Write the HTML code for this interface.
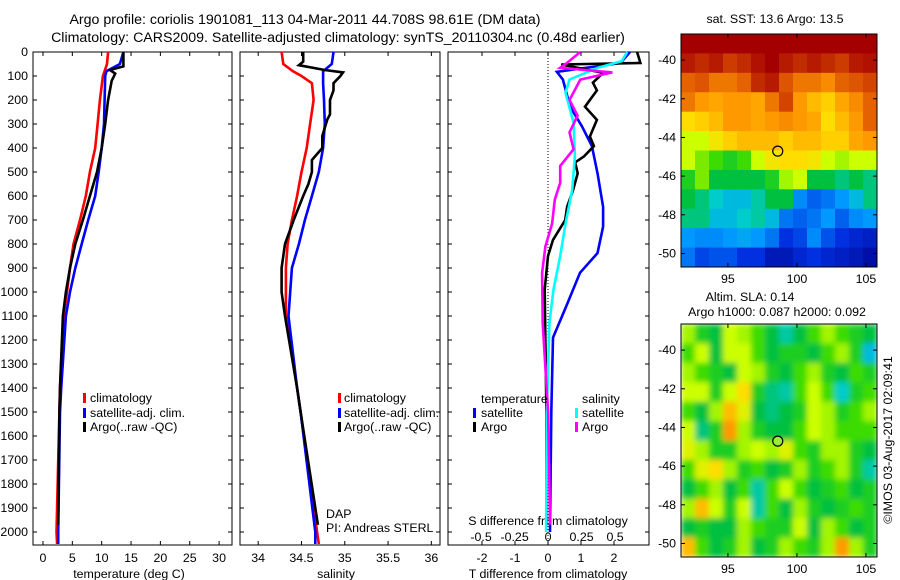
<!DOCTYPE html>
<html><head><meta charset="utf-8">
<style>
html,body{margin:0;padding:0;background:#fff;}
svg{display:block;font-family:"Liberation Sans",sans-serif;}
text{fill:#000;font-size:12.4px;}
</style></head>
<body>
<svg id="fig" width="900" height="580" viewBox="0 0 900 580" xmlns="http://www.w3.org/2000/svg">
<defs>
<filter id="blur" x="-5%" y="-5%" width="110%" height="110%"><feGaussianBlur stdDeviation="3" edgeMode="duplicate"/></filter>
<clipPath id="clipSST"><rect x="681" y="34" width="196" height="233"/></clipPath>
<clipPath id="clipSLA"><rect x="681" y="324" width="196" height="233"/></clipPath>
</defs>
<text x="305" y="24" text-anchor="middle" style="font-size:14.2px">Argo profile: coriolis 1901081_113 04-Mar-2011 44.708S 98.61E (DM data)</text>
<text x="338" y="42" text-anchor="middle" style="font-size:14.2px">Climatology: CARS2009. Satellite-adjusted climatology: synTS_20110304.nc (0.48d earlier)</text>
<g id="g"></g>
</svg>
<script>
// ---- data ----
const tDepth = [0,50,80,100,200,300,400,500,600,700,800,900,1000,1100,1400,1500,2000,2050];
const tClim  = [11.1,10.9,10.5,10.2,9.7,9.3,8.9,8.0,7.3,6.3,5.2,4.6,4.1,3.5,2.9,2.8,2.3,2.4];
const tSat   = [13.7,13.1,10.8,10.6,10.5,10.4,10.0,9.5,8.9,7.7,6.6,5.5,4.6,3.9,3.1,2.9,2.6,2.6];
const argoDepth = [0,60,75,90,120,200,300,400,500,600,700,800,900,1000,1100,1400,1500,1970];
const tArgo  = [13.7,13.7,11.4,12.3,11.7,11.1,10.6,10.0,9.2,8.0,6.8,5.5,4.6,3.9,3.4,2.9,2.8,2.6];

const sDepth = [0,50,80,100,130,200,300,400,500,600,700,800,900,1100,1400,1500,2000,2050];
const sClim  = [34.27,34.29,34.40,34.50,34.62,34.64,34.60,34.56,34.50,34.45,34.39,34.34,34.32,34.32,34.45,34.49,34.68,34.70];
const sSat   = [34.87,34.85,34.75,34.75,34.75,34.76,34.77,34.75,34.70,34.62,34.54,34.47,34.39,34.35,34.45,34.49,34.66,34.66];
const sArgoDepth = [0,40,55,75,85,100,130,160,200,260,280,350,400,450,500,550,600,700,800,900,1000,1100,1400,1500,1970];
const sArgo  = [34.52,34.52,34.47,34.77,34.98,34.95,34.87,34.87,34.83,34.83,34.80,34.74,34.74,34.62,34.62,34.58,34.52,34.41,34.31,34.27,34.27,34.31,34.45,34.49,34.69];

const dtSatDepth = [0,46,83,115,228,310,392,505,645,728,838,920,1060,1190,1500,2000];
const dtSat  = [2.48,2.2,0.27,0.45,0.67,1.03,1.33,1.5,1.67,1.67,1.5,0.97,0.55,0.15,0.1,0.06];
const dtArgoDepth = [0,46,52,87,128,160,228,283,352,392,435,460,505,575,645,700,783,850,990,1500,1970];
const dtArgo = [2.7,2.8,0.4,1.67,1.36,1.48,1.12,1.48,1.27,1.39,1.09,0.82,0.9,0.76,0.58,0.52,0.15,0,-0.1,-0.05,-0.05];
const dsSatDepth = [0,38,66,115,170,295,435,575,715,850,990,1130,1500,2000];
const dsSat  = [0.59,0.55,0.37,0.16,0.13,0.19,0.2,0.18,0.13,0.09,0.04,0.01,-0.01,-0.015];
const dsArgoDepth = [0,46,66,85,115,200,265,335,405,475,545,615,715,810,920,1130,1500,1970];
const dsArgo = [0.24,0.14,0.09,0.48,0.24,0.16,0.22,0.16,0.19,0.09,0.09,0.05,0.03,-0.02,-0.045,-0.04,0.0,0.015];

const depthTicks = [0,100,200,300,400,500,600,700,800,900,1000,1100,1200,1300,1400,1500,1600,1700,1800,1900,2000];
const tTicks = [0,5,10,15,20,25,30];
const sTicks = [34,34.5,35,35.5,36];
const dtTicks = [-2,-1,0,1,2];
const dsTicks = [-0.5,-0.25,0,0.25,0.5];
const lonTicks = [95,100,105];
const latTicks = [-40,-42,-44,-46,-48,-50];

const sstGrid = [
[1,1,1,1,1,1,1,1,1,1,1,1,1,1],
[0.97,0.95,0.97,0.93,0.95,0.98,1,0.97,0.95,0.97,0.95,0.93,0.97,0.98],
[0.88,0.9,0.85,0.85,0.88,0.95,0.97,0.9,0.85,0.85,0.82,0.88,0.9,0.92],
[0.85,0.8,0.78,0.8,0.8,0.78,0.85,0.92,0.8,0.75,0.72,0.78,0.82,0.88],
[0.7,0.72,0.75,0.8,0.8,0.78,0.8,0.82,0.8,0.78,0.7,0.75,0.8,0.88],
[0.62,0.62,0.68,0.72,0.75,0.75,0.75,0.72,0.75,0.75,0.72,0.72,0.78,0.8],
[0.62,0.58,0.55,0.5,0.55,0.62,0.68,0.7,0.7,0.68,0.62,0.6,0.62,0.62],
[0.5,0.58,0.45,0.45,0.45,0.45,0.5,0.6,0.62,0.45,0.45,0.42,0.45,0.42],
[0.45,0.42,0.38,0.35,0.35,0.4,0.45,0.45,0.28,0.22,0.25,0.3,0.35,0.42],
[0.42,0.42,0.35,0.35,0.38,0.4,0.35,0.25,0.22,0.25,0.3,0.22,0.28,0.3],
[0.3,0.28,0.28,0.3,0.32,0.3,0.25,0.15,0.18,0.28,0.2,0.15,0.12,0.1],
[0.25,0.18,0.2,0.2,0.15,0.15,0.08,0.08,0.12,0.15,0.12,0.1,0.08,0.05]];
const slaGrid = [
[0.6,0.5,0.45,0.62,0.6,0.55,0.45,0.4,0.45,0.55,0.6,0.55,0.5,0.45],
[0.55,0.62,0.45,0.62,0.62,0.55,0.45,0.5,0.5,0.45,0.55,0.6,0.5,0.35],
[0.6,0.55,0.5,0.45,0.62,0.6,0.5,0.45,0.55,0.6,0.5,0.45,0.55,0.5],
[0.62,0.62,0.5,0.62,0.7,0.5,0.42,0.4,0.55,0.62,0.55,0.38,0.5,0.55],
[0.55,0.45,0.6,0.75,0.65,0.45,0.42,0.45,0.5,0.62,0.6,0.5,0.55,0.6],
[0.62,0.42,0.5,0.8,0.6,0.5,0.45,0.45,0.55,0.62,0.6,0.55,0.55,0.55],
[0.65,0.6,0.5,0.5,0.6,0.62,0.6,0.65,0.55,0.5,0.6,0.6,0.5,0.45],
[0.55,0.65,0.7,0.6,0.5,0.55,0.45,0.5,0.6,0.5,0.55,0.6,0.5,0.4],
[0.45,0.55,0.6,0.45,0.55,0.4,0.55,0.62,0.55,0.45,0.5,0.55,0.45,0.5],
[0.6,0.75,0.62,0.5,0.62,0.4,0.55,0.45,0.6,0.5,0.45,0.5,0.55,0.5],
[0.45,0.5,0.45,0.45,0.6,0.55,0.5,0.5,0.62,0.45,0.6,0.55,0.45,0.5],
[0.75,0.55,0.45,0.5,0.6,0.45,0.5,0.6,0.55,0.5,0.6,0.8,0.6,0.5]];
const argoLon = 98.61, argoLat = -44.708;

// ---- helpers ----
const NS = "http://www.w3.org/2000/svg";
const G = document.getElementById('g');
function el(tag, attrs, parent){ const e=document.createElementNS(NS,tag); for(const k in attrs) e.setAttribute(k,attrs[k]); (parent||G).appendChild(e); return e; }
function txt(x,y,s,anchor,parent){ const t=el('text',{x:x,y:y,'text-anchor':anchor||'start'},parent); t.textContent=s; return t; }

const yTop=52, yBot=545;
const yD = d => yTop + d*0.24;
const panels = [
 {x0:33,x1:232, vmin:-1.7, vmax:32.2},
 {x0:240,x1:440, vmin:33.79, vmax:36.1},
 {x0:448,x1:649, vmin:-3.03, vmax:3.06}
];
function xs(p,v){ return p.x0 + (v-p.vmin)/(p.vmax-p.vmin)*(p.x1-p.x0); }
const pDS = {x0:448,x1:649,vmin:-0.747,vmax:0.753};

function frame(p,name){
  const r=el('rect',{x:p.x0,y:yTop,width:p.x1-p.x0,height:yBot-yTop,fill:'none',stroke:'#000','stroke-width':1});
  
  
  depthTicks.forEach(d=>{
    el('line',{x1:p.x0,x2:p.x0+4,y1:yD(d),y2:yD(d),stroke:'#000'});
    el('line',{x1:p.x1,x2:p.x1-4,y1:yD(d),y2:yD(d),stroke:'#000'});
  });
}
function line(p,vals,depths,color,name,scale){
  const pts = vals.map((v,i)=>(scale?scale(v):xs(p,v)).toFixed(1)+','+yD(depths[i]).toFixed(1)).join(' ');
  const l=el('polyline',{points:pts,fill:'none',stroke:color,'stroke-width':2.6,'stroke-linejoin':'miter'});
  
  
}
function legMark(x,y,color){ el('rect',{x:x,y:y-9,width:3,height:10,fill:color}); }

// panel 1 temperature
const p1=panels[0];
frame(p1,'temperature-axes');
depthTicks.forEach(d=>{ const t=txt(28,yD(d)+4,String(d),'end');   });
tTicks.forEach(v=>{ const x=xs(p1,v); el('line',{x1:x,x2:x,y1:yBot,y2:yBot-4,stroke:'#000'}); el('line',{x1:x,x2:x,y1:yTop,y2:yTop+4,stroke:'#000'}); txt(x,562,String(v),'middle'); });
txt(129,578,'temperature (deg C)','middle');
line(p1,tClim,tDepth,'#f00','temp-climatology-line');
line(p1,tSat,tDepth,'#00f','temp-satellite-line');
line(p1,tArgo,argoDepth,'#000','temp-argo-line');
legMark(83,402,'#f00'); txt(90,402,'climatology');
legMark(83,417,'#00f'); txt(90,417,'satellite-adj. clim.');
legMark(83,431,'#000'); txt(90,431,'Argo(..raw -QC)');

// panel 2 salinity
const p2=panels[1];
frame(p2,'salinity-axes');
sTicks.forEach(v=>{ const x=xs(p2,v); el('line',{x1:x,x2:x,y1:yBot,y2:yBot-4,stroke:'#000'}); el('line',{x1:x,x2:x,y1:yTop,y2:yTop+4,stroke:'#000'}); txt(x,562,String(v),'middle'); });
txt(336,578,'salinity','middle');
line(p2,sClim,sDepth,'#f00','sal-climatology-line');
line(p2,sSat,sDepth,'#00f','sal-satellite-line');
line(p2,sArgo,sArgoDepth,'#000','sal-argo-line');
legMark(338,402,'#f00'); txt(344,402,'climatology');
legMark(338,417,'#00f'); txt(344,417,'satellite-adj. clim.');
legMark(338,431,'#000'); txt(344,431,'Argo(..raw -QC)');
txt(326,518,'DAP'); txt(326,532,'PI: Andreas STERL');

// panel 3 differences
const p3=panels[2];
frame(p3,'difference-axes');
el('line',{x1:xs(p3,0),x2:xs(p3,0),y1:yTop,y2:yBot,stroke:'#000','stroke-dasharray':'1,2'});
dtTicks.forEach(v=>{ const x=xs(p3,v); el('line',{x1:x,x2:x,y1:yBot,y2:yBot-4,stroke:'#000'}); el('line',{x1:x,x2:x,y1:yTop,y2:yTop+4,stroke:'#000'}); txt(x,562,String(v),'middle'); });
const dsx = v => xs(pDS,v);
dsTicks.forEach(v=>{ txt(dsx(v),541,String(v),'middle'); });
txt(548,525,'S difference from climatology','middle');
txt(548,578,'T difference from climatology','middle');
line(p3,dtSat,dtSatDepth,'#00f','dT-satellite-line');
line(p3,dtArgo,dtArgoDepth,'#000','dT-argo-line');
line(p3,dsSat,dsSatDepth,'#0ff','dS-satellite-line',dsx);
line(p3,dsArgo,dsArgoDepth,'#f0f','dS-argo-line',dsx);
txt(481,403,'temperature'); txt(582,403,'salinity');
legMark(473,417,'#00f'); txt(481,417,'satellite');
legMark(473,431,'#000'); txt(481,431,'Argo');
legMark(575,417,'#0ff'); txt(582,417,'satellite');
legMark(575,431,'#f0f'); txt(582,431,'Argo');

// ---- maps ----
const stops=[[0,[0,0,139]],[0.15,[0,48,224]],[0.3,[0,153,255]],[0.38,[0,204,204]],[0.45,[0,192,64]],[0.55,[60,220,0]],[0.62,[204,255,0]],[0.7,[255,221,0]],[0.8,[255,153,0]],[0.9,[221,85,0]],[1,[165,0,0]]];
function cmap(v){ for(let i=1;i<stops.length;i++){ if(v<=stops[i][0]){ const a=stops[i-1],b=stops[i]; const f=(v-a[0])/(b[0]-a[0]); const c=a[1].map((x,k)=>Math.round(x+(b[1][k]-x)*f)); return 'rgb('+c.join(',')+')'; } } return 'rgb(165,0,0)'; }
const mx0=681,mx1=877, lonMin=91.6, lonMax=105.8;
const latTop=-38.65, latBot=-50.7;
const lonX = lon => mx0+(lon-lonMin)/(lonMax-lonMin)*(mx1-mx0);
function drawMap(grid,my0,my1,clip,blur,name){
  const latY = lat => my0+(latTop-lat)/(latTop-latBot)*(my1-my0);
  const g=el('g',{'clip-path':'url(#'+clip+')'});
  
  
  const inner = blur? el('g',{filter:'url(#blur)'},g) : g;
  const rows=grid.length, cols=grid[0].length;
  const cw=(mx1-mx0)/cols, ch=(my1-my0)/rows;
  grid.forEach((row,r)=>row.forEach((v,c)=>{
    el('rect',{x:(mx0+c*cw).toFixed(2),y:(my0+r*ch).toFixed(2),width:(cw+0.6).toFixed(2),height:(ch+0.6).toFixed(2),fill:cmap(v)},inner);
  }));
  el('rect',{x:mx0,y:my0,width:mx1-mx0,height:my1-my0,fill:'none',stroke:'#000'});
  latTicks.forEach(l=>{ const y=latY(l); el('line',{x1:mx0,x2:mx0+4,y1:y,y2:y,stroke:'#000'}); el('line',{x1:mx1,x2:mx1-4,y1:y,y2:y,stroke:'#000'}); txt(676,y+4,String(l),'end'); });
  lonTicks.forEach(l=>{ const x=lonX(l); el('line',{x1:x,x2:x,y1:my1,y2:my1-4,stroke:'#000'}); el('line',{x1:x,x2:x,y1:my0,y2:my0+4,stroke:'#000'}); txt(x,my1+16,String(l),'middle'); });
  const m=el('circle',{cx:lonX(argoLon),cy:latY(argoLat),r:5,fill:blur?'#9e3':'none',stroke:'#000','stroke-width':1.2});
  
  
}
txt(775,23,'sat. SST: 13.6 Argo: 13.5','middle');
drawMap(sstGrid,34,267,'clipSST',false,'sst-map');
txt(750,301,'Altim. SLA: 0.14','middle');
txt(777,316,'Argo h1000: 0.087 h2000: 0.092','middle');
drawMap(slaGrid,324,557,'clipSLA',true,'sla-map');
const c=txt(0,0,'©IMOS 03-Aug-2017 02:09:41','middle');
c.setAttribute('transform','translate(892,440) rotate(-90)');


</script>
</body></html>
